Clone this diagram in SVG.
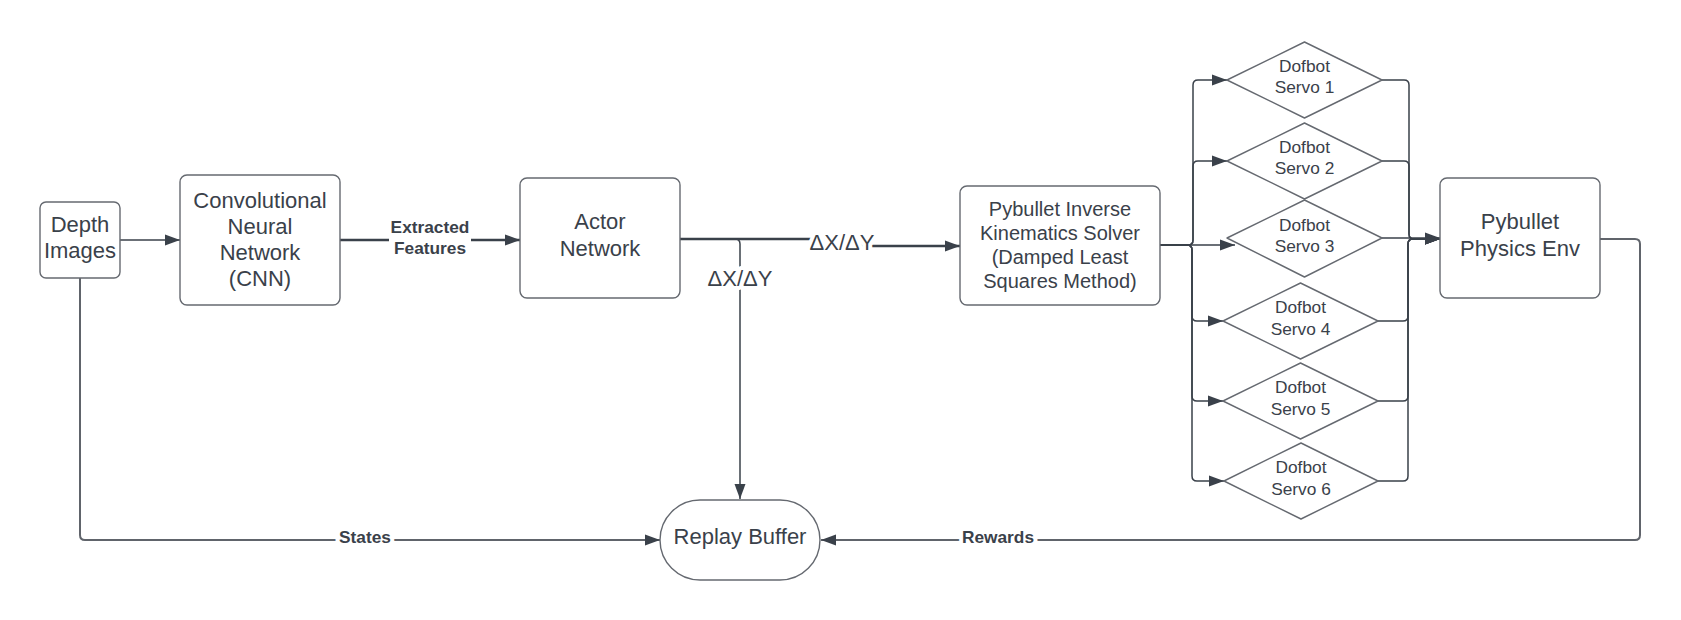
<svg xmlns="http://www.w3.org/2000/svg" width="1681" height="620" viewBox="0 0 1681 620">
<defs>
<marker id="ah" markerUnits="userSpaceOnUse" markerWidth="15" markerHeight="12" refX="15" refY="6" orient="auto"><path d="M0,0.5 L15,6 L0,11.5 z" fill="#3a414a"/></marker>
<style>
.node{fill:#fff;stroke:#656970;stroke-width:1.4}
.t{font-family:"Liberation Sans",Arial,sans-serif;font-size:22px;fill:#3a414a;text-anchor:middle}
.t20{font-size:20px}
.ts{font-size:17.3px}
.c{fill:none;stroke:#3a414a;stroke-width:1.5}
.ck{fill:none;stroke:#3a414a;stroke-width:2.5}
.cg{fill:none;stroke:#60646b;stroke-width:2}
.lbl{font-family:"Liberation Sans",Arial,sans-serif;fill:#3a414a;text-anchor:middle;paint-order:stroke;stroke:#fff;stroke-width:8;stroke-linejoin:round}
.b{font-weight:bold;font-size:17.3px}
.n{font-size:22px}
</style>
</defs>
<rect width="1681" height="620" fill="#fff"/>
<g id="connectors">
<path class="c" d="M120,240 H180" marker-end="url(#ah)"/>
<path class="ck" d="M340,240 H520" marker-end="url(#ah)"/>
<path class="ck" d="M680,239 H842 V246 H960" marker-end="url(#ah)"/>
<path class="c" d="M680,239 H735 Q740,239 740,244 V499" marker-end="url(#ah)"/>
<path class="cg" d="M80,278 V535 Q80,540 85,540 H660" marker-end="url(#ah)"/>
<path class="cg" d="M1600,239 H1635 Q1640,239 1640,244 V535 Q1640,540 1635,540 H821" marker-end="url(#ah)"/>
<path class="c" d="M1160,245 H1188 Q1193,245 1193,240 V85 Q1193,80 1198,80 H1227" marker-end="url(#ah)"/>
<path class="c" d="M1160,245 H1188 Q1193,245 1193,240 V166 Q1193,161 1198,161 H1227" marker-end="url(#ah)"/>
<path class="c" d="M1160,245 H1235" marker-end="url(#ah)"/>
<path class="c" d="M1160,245 H1187 Q1192,245 1192,250 V316 Q1192,321 1197,321 H1223" marker-end="url(#ah)"/>
<path class="c" d="M1160,245 H1187 Q1192,245 1192,250 V396 Q1192,401 1197,401 H1223" marker-end="url(#ah)"/>
<path class="c" d="M1160,245 H1187 Q1192,245 1192,250 V476 Q1192,481 1197,481 H1224" marker-end="url(#ah)"/>
<path class="c" d="M1382,80 H1404 Q1409,80 1409,85 V234 Q1409,239 1414,239 H1440" marker-end="url(#ah)"/>
<path class="c" d="M1382,161 H1404 Q1409,161 1409,166 V234 Q1409,239 1414,239 H1440" marker-end="url(#ah)"/>
<path class="c" d="M1382,238 H1440" marker-end="url(#ah)"/>
<path class="c" d="M1378,321 H1403 Q1408,321 1408,316 V244 Q1408,239 1413,239 H1440" marker-end="url(#ah)"/>
<path class="c" d="M1378,401 H1403 Q1408,401 1408,396 V244 Q1408,239 1413,239 H1440" marker-end="url(#ah)"/>
<path class="c" d="M1378,481 H1403 Q1408,481 1408,476 V244 Q1408,239 1413,239 H1440" marker-end="url(#ah)"/>
<rect x="389" y="218" width="82" height="42" fill="#fff"/>
<text class="lbl b" x="430" y="233">Extracted</text>
<text class="lbl b" x="430" y="254">Features</text>
<text class="lbl n" x="842" y="250">ΔX/ΔY</text>
<text class="lbl n" x="740" y="286">ΔX/ΔY</text>
<text class="lbl b" x="365" y="543">States</text>
<text class="lbl b" x="998" y="543">Rewards</text>
</g>
<g id="depth">
<rect class="node" x="40" y="202" width="80" height="76" rx="6"/>
<text class="t" x="80" y="232">Depth</text>
<text class="t" x="80" y="258">Images</text>
</g>
<g id="cnn">
<rect class="node" x="180" y="175" width="160" height="130" rx="7"/>
<text class="t" x="260" y="208">Convolutional</text>
<text class="t" x="260" y="234">Neural</text>
<text class="t" x="260" y="260">Network</text>
<text class="t" x="260" y="286">(CNN)</text>
</g>
<g id="actor">
<rect class="node" x="520" y="178" width="160" height="120" rx="7"/>
<text class="t" x="600" y="229">Actor</text>
<text class="t" x="600" y="256">Network</text>
</g>
<g id="ik">
<rect class="node" x="960" y="186" width="200" height="119" rx="7"/>
<text class="t t20" x="1060" y="216">Pybullet Inverse</text>
<text class="t t20" x="1060" y="240">Kinematics Solver</text>
<text class="t t20" x="1060" y="264">(Damped Least</text>
<text class="t t20" x="1060" y="288">Squares Method)</text>
</g>
<g id="servo1">
<polygon class="node" stroke-linejoin="round" points="1304.5,42 1382,80 1304.5,118 1227,80"/>
<text class="t ts" x="1304.5" y="72">Dofbot</text>
<text class="t ts" x="1304.5" y="93">Servo 1</text>
</g>
<g id="servo2">
<polygon class="node" stroke-linejoin="round" points="1304.5,123 1382,161 1304.5,199 1227,161"/>
<text class="t ts" x="1304.5" y="153">Dofbot</text>
<text class="t ts" x="1304.5" y="174">Servo 2</text>
</g>
<g id="servo3">
<polygon class="node" stroke-linejoin="round" points="1304.5,200 1382,238 1304.5,277 1227,238"/>
<text class="t ts" x="1304.5" y="231">Dofbot</text>
<text class="t ts" x="1304.5" y="252">Servo 3</text>
</g>
<g id="servo4">
<polygon class="node" stroke-linejoin="round" points="1300.5,283 1378,321 1300.5,359 1223,321"/>
<text class="t ts" x="1300.5" y="313">Dofbot</text>
<text class="t ts" x="1300.5" y="335">Servo 4</text>
</g>
<g id="servo5">
<polygon class="node" stroke-linejoin="round" points="1300.5,363 1378,401 1300.5,439 1223,401"/>
<text class="t ts" x="1300.5" y="393">Dofbot</text>
<text class="t ts" x="1300.5" y="415">Servo 5</text>
</g>
<g id="servo6">
<polygon class="node" stroke-linejoin="round" points="1301,443 1378,481 1301,519 1224,481"/>
<text class="t ts" x="1301" y="473">Dofbot</text>
<text class="t ts" x="1301" y="495">Servo 6</text>
</g>
<g id="physics">
<rect class="node" x="1440" y="178" width="160" height="120" rx="7"/>
<text class="t" x="1520" y="229">Pybullet</text>
<text class="t" x="1520" y="256">Physics Env</text>
</g>
<g id="replay">
<rect class="node" x="660" y="500" width="160" height="80" rx="40"/>
<text class="t" x="740" y="544">Replay Buffer</text>
</g>
</svg>
